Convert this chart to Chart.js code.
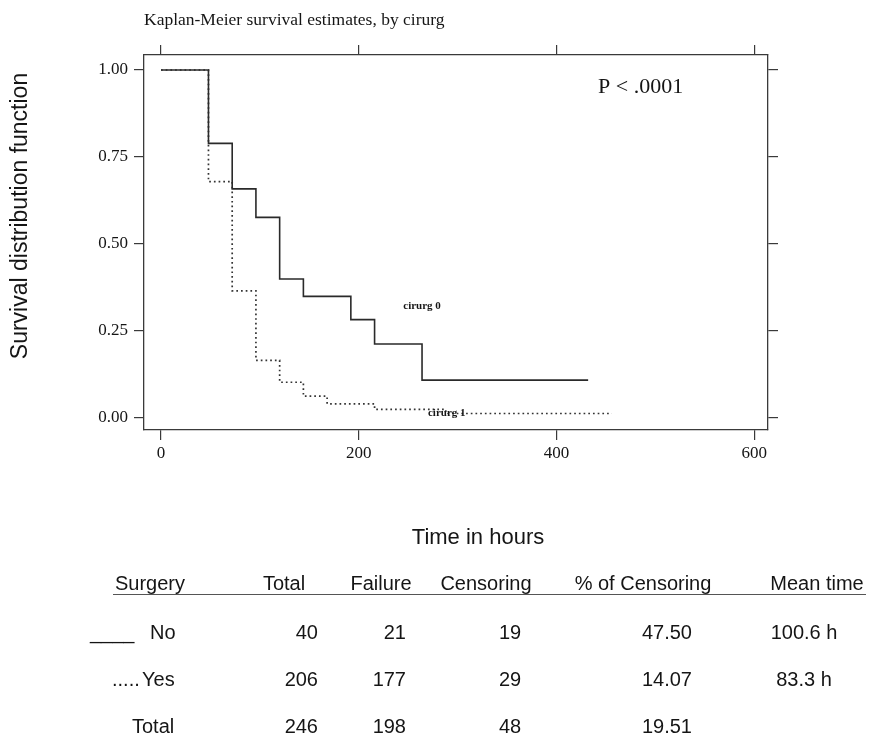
<!DOCTYPE html>
<html><head><meta charset="utf-8">
<script src="https://cdn.jsdelivr.net/npm/chart.js@4.4.1/dist/chart.umd.min.js"></script>
<style>
html,body{margin:0;padding:0;background:#fff;}
#wrap{position:relative;width:871px;height:736px;overflow:hidden;background:#fff;}
#c{position:absolute;left:0;top:0;}
.cell{position:absolute;font-family:"Liberation Sans",Arial,sans-serif;font-size:20px;color:#151515;white-space:nowrap;line-height:24px;height:24px;}
#rule{position:absolute;left:113px;top:594px;width:753px;height:1px;background:#555;}
</style></head><body>
<div id="wrap"><canvas id="c" width="871" height="736"></canvas><div id="rule"></div><div id="table"></div></div>
<script>
// ---- text ----
const chartTitle = 'Kaplan-Meier survival estimates, by cirurg';
const yAxisTitle = 'Survival distribution function';
const xAxisTitle = 'Time in hours';
const pValueText = 'P < .0001';
const seriesNames = ['cirurg 0', 'cirurg 1'];

// ---- series (time in hours, survival estimate) ----
const timesNo = [0, 48, 72, 96, 120, 144, 192, 216, 264, 432];
const survivalNo = [1.00, 0.789, 0.658, 0.576, 0.399, 0.349, 0.282, 0.212, 0.108, 0.108];
const timesYes = [0, 48, 72, 96, 120, 144, 168, 216, 288, 456];
const survivalYes = [1.00, 0.679, 0.365, 0.165, 0.102, 0.062, 0.040, 0.024, 0.012, 0.012];

// ---- ticks ----
const xTickValues = [0, 200, 400, 600];
const yTickValues = [0, 0.25, 0.50, 0.75, 1.00];

// ---- table ----
const tableHeaders = ['Surgery', 'Total', 'Failure', 'Censoring', '% of Censoring', 'Mean time'];
const groupMarkers = ['____', '.....', ''];
const tableGroups = ['No', 'Yes', 'Total'];
const tableTotal = ['40', '206', '246'];
const tableFailure = ['21', '177', '198'];
const tableCensoring = ['19', '29', '48'];
const tableCensorPct = ['47.50', '14.07', '19.51'];
const tableMeanTime = ['100.6 h', '83.3 h', ''];

// ---- layout (positions only) ----
const X_MIN = -17.2, X_MAX = 613.9, Y_MIN = -0.0354, Y_MAX = 1.0431;
const labelPos = [{x: 245, y: 0.322}, {x: 270, y: 0.0135}];
const pValuePos = {x: 442, y: 0.934};
const xTitlePos = {x: 478, y: 538};
const yTitlePos = {x: 21, y: 216};
const headerLayout = [[115,'left'],[284,'center'],[381,'center'],[486,'center'],[643,'center'],[817,'center']];
const headerY = 583;
const rowY = [632, 679, 726];
const markerLeft = [90, 112, 0];
const groupLeft = [150, 142, 132];
const valueLayout = [[318,'right'],[406,'right'],[510,'center'],[692,'right'],[804,'center']];

function cell(text, x, yc, align){
  const d = document.createElement('div');
  d.className = 'cell';
  d.textContent = text;
  d.style.top = (yc - 12) + 'px';
  if (align === 'left') d.style.left = x + 'px';
  else if (align === 'right') d.style.right = (871 - x) + 'px';
  else { d.style.left = x + 'px'; d.style.transform = 'translateX(-50%)'; }
  document.getElementById('table').appendChild(d);
}
tableHeaders.forEach((h,i)=>cell(h, headerLayout[i][0], headerY, headerLayout[i][1]));
const valueCols = [tableTotal, tableFailure, tableCensoring, tableCensorPct, tableMeanTime];
tableGroups.forEach((g,r)=>{
  if (groupMarkers[r]) cell(groupMarkers[r], markerLeft[r], rowY[r], 'left');
  cell(g, groupLeft[r], rowY[r], 'left');
  valueCols.forEach((col,c)=>{ if (col[r]) cell(col[r], valueLayout[c][0], rowY[r], valueLayout[c][1]); });
});

const serif = '"Liberation Serif", "Times New Roman", serif';
const sans = '"Liberation Sans", Arial, sans-serif';
const ink = '#151515';
const frame = '#3a3a3a';

const annotate = {
  id: 'annotate',
  afterDatasetsDraw(chart){
    const {ctx, scales:{x, y}} = chart;
    ctx.save();
    ctx.fillStyle = ink;
    ctx.textBaseline = 'alphabetic';
    ctx.textAlign = 'left';
    ctx.font = '17.5px ' + serif;
    ctx.fillText(chartTitle, 144, 25);
    ctx.font = '22px ' + serif;
    ctx.fillText(pValueText, x.getPixelForValue(pValuePos.x), y.getPixelForValue(pValuePos.y));
    ctx.font = 'bold 11px ' + serif;
    ctx.textBaseline = 'middle';
    seriesNames.forEach((n,i)=>{
      ctx.fillText(n, x.getPixelForValue(labelPos[i].x), y.getPixelForValue(labelPos[i].y));
    });
    // axis titles
    ctx.textAlign = 'center';
    ctx.font = '22px ' + sans;
    ctx.fillText(xAxisTitle, xTitlePos.x, xTitlePos.y);
    ctx.translate(yTitlePos.x, yTitlePos.y);
    ctx.rotate(-Math.PI / 2);
    ctx.font = '23px ' + sans;
    ctx.fillText(yAxisTitle, 0, 0);
    ctx.restore();
  }
};

const setXTicks = s => { s.ticks = xTickValues.map(v => ({value: v})); };
const setYTicks = s => { s.ticks = yTickValues.map(v => ({value: v})); };
const gridOpts = {drawOnChartArea: false, drawTicks: true, tickLength: 10, color: frame, lineWidth: 1.2};
const borderOpts = {display: true, color: frame, width: 1.3};

new Chart(document.getElementById('c'), {
  type: 'scatter',
  data: {
    datasets: [
      {label: seriesNames[0], data: timesNo.map((t,i)=>({x: t, y: survivalNo[i]})),
       showLine: true, stepped: 'before', borderColor: '#2a2a2a', borderWidth: 1.6, pointRadius: 0, fill: false},
      {label: seriesNames[1], data: timesYes.map((t,i)=>({x: t, y: survivalYes[i]})),
       showLine: true, stepped: 'before', borderColor: '#333333', borderWidth: 1.7, borderDash: [1.7, 3], pointRadius: 0, fill: false}
    ]
  },
  options: {
    responsive: false, animation: false, devicePixelRatio: 1,
    layout: {padding: 0},
    plugins: {legend: {display: false}, tooltip: {enabled: false}, title: {display: false}},
    scales: {
      x: {type: 'linear', position: 'bottom', min: X_MIN, max: X_MAX,
          afterBuildTicks: setXTicks, afterFit: s => { s.height = 736 - 430; },
          grid: gridOpts, border: borderOpts,
          ticks: {font: {family: serif, size: 17}, color: ink, padding: 3, maxRotation: 0, autoSkip: false},
          title: {display: false, text: xAxisTitle}},
      xTop: {type: 'linear', position: 'top', min: X_MIN, max: X_MAX,
          afterBuildTicks: setXTicks, afterFit: s => { s.height = 55; },
          grid: gridOpts, border: borderOpts, ticks: {display: false}},
      y: {type: 'linear', position: 'left', min: Y_MIN, max: Y_MAX,
          afterBuildTicks: setYTicks, afterFit: s => { s.width = 144; },
          grid: gridOpts, border: borderOpts,
          ticks: {font: {family: serif, size: 17}, color: ink, padding: 6, callback: v => Number(v).toFixed(2)},
          title: {display: false, text: yAxisTitle}},
      yRight: {type: 'linear', position: 'right', min: Y_MIN, max: Y_MAX,
          afterBuildTicks: setYTicks, afterFit: s => { s.width = 871 - 768; },
          grid: gridOpts, border: borderOpts, ticks: {display: false}}
    }
  },
  plugins: [annotate]
});
</script>
</body></html>
